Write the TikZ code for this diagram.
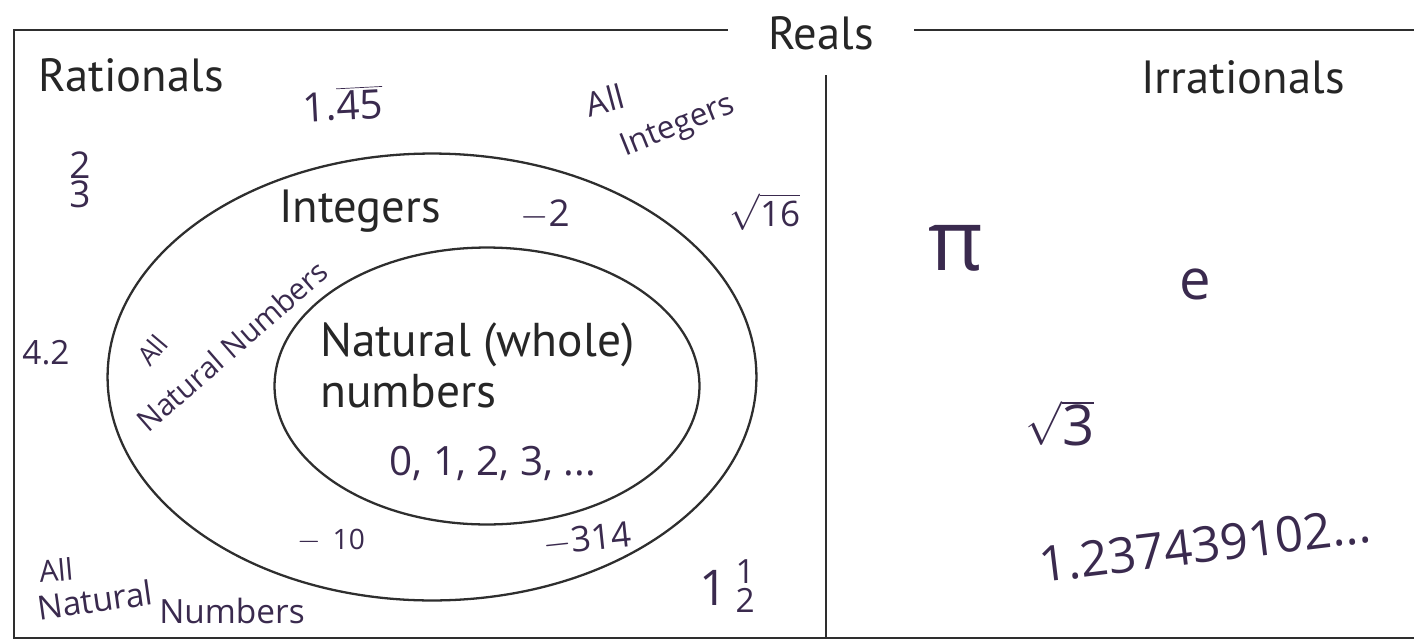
\documentclass[tikz,border=0pt]{standalone}
\usepackage{fontspec}
\setmainfont{PT Sans}
\newfontfamily\handfont{Open Sans}
\usetikzlibrary{shapes.geometric}
\definecolor{ink}{HTML}{3A2A4E}
\definecolor{pen}{HTML}{2E2E2E}
\begin{document}
\begin{tikzpicture}[x=0.02cm,y=-0.02cm,
  lbl/.style={font=\fontsize{26.5}{30}\selectfont, text=black!85, inner sep=0},
  hw/.style={font=\handfont\fontsize{#1}{#1}\selectfont, text=ink, inner sep=0, align=center},
  hw/.default=18,
  frameline/.style={draw=pen, line width=1.6pt},
  setline/.style={draw=pen, line width=1.3pt, ellipse, inner sep=0}]
\useasboundingbox (0,0) rectangle (1414,643);
% frame
\coordinate (tl) at (14,30);
\coordinate (tr) at (1414,30);
\coordinate (bl) at (14,638);
\coordinate (br) at (1414,638);
\coordinate (dtop) at (826,75);
\coordinate (dbot) at (826,638);
\node[lbl, inner xsep=0.8cm] (reals) at (821,33) {Reals};
\draw[frameline] (reals.west |- tl) -- (tl) -- (bl) -- (br);
\draw[frameline] (reals.east |- tr) -- (tr);
\draw[frameline] (dtop) -- (dbot);
\node[lbl, anchor=west] (rat) at (38,75) {Rationals};
\node[lbl, anchor=east] (irr) at (1345,77) {Irrationals};
% sets
\node[setline, minimum width=12.98cm, minimum height=8.94cm] (outer) at (432,377) {};
\node[setline, minimum width=8.5cm, minimum height=5.54cm] (inner) at (487,386) {};
\node[lbl] (int) at (360,211) {Integers};
\node[lbl, align=left, anchor=north west, font=\fontsize{27}{29.5}\selectfont] (nat) at (320,322) {Natural (whole)\\numbers};
% handwritten, rationals
\node[hw=23, rotate=3] (h145) at (343,104) {1.$\overline{\hbox{45}}$};
\node[hw=19, rotate=15] (hall1) at (605,100) {All};
\node[hw=18, rotate=22] (hint) at (678,127) {Integers};
\node[hw=21, font=\handfont\fontsize{21}{15}\selectfont] (h23) at (80,180) {2\\3};
\node[hw=21] (hm2) at (545,215) {$-$2};
\node[hw=20] (hs16) at (765,212) {$\sqrt{\hbox{16}}$};
\node[hw=19] (h42) at (46,353) {4.2};
\node[hw=15, rotate=50] (hall2) at (152,350) {All};
\node[hw=17, rotate=41] (hnn) at (232,346) {Natural Numbers};
\node[hw=23] (h0123) at (493,463) {0, 1, 2, 3, ...};
\node[hw=16] (hm10) at (331,541) {$-$\, 10};
\node[hw=20, rotate=6] (hm314) at (587,540) {$-$314};
\node[hw=28] (h1h) at (727,586) {1\,\raisebox{-4pt}{\fontsize{19}{15}\selectfont\shortstack{1\\2}}};
\node[hw=17, rotate=5] (hall3) at (56,570) {All};
\node[hw=19, rotate=8] (hnat) at (95,600) {Natural};
\node[hw=19] (hnum) at (232,611) {Numbers};
% handwritten, irrationals
\node[hw=48] (hpi) at (956,248) {π};
\node[hw=32] (he) at (1195,284) {e};
\node[hw=32] (hs3) at (1060,423) {$\sqrt{\hbox{3}}$};
\node[hw=28, rotate=7] (hirr) at (1205,545) {1.237439102...};
\end{tikzpicture}
\end{document}
